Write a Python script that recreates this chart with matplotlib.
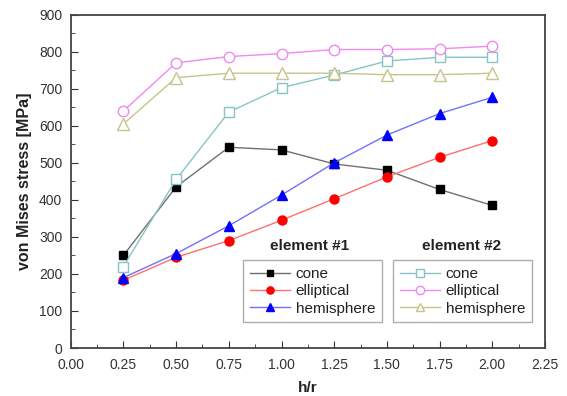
import numpy as np
import matplotlib.pyplot as plt

plt.rcParams['font.family'] = ['Liberation Sans', 'DejaVu Sans']

h_r = [0.25, 0.5, 0.75, 1.0, 1.25, 1.5, 1.75, 2.0]

# element #1
cone1 = [250, 435, 542, 535, 497, 480, 428, 385]
ellip1 = [183, 245, 290, 345, 403, 462, 515, 560]
hemi1 = [190, 255, 330, 413, 500, 575, 633, 677]

# element #2
cone2 = [220, 455, 637, 703, 737, 775, 785, 785]
ellip2 = [640, 770, 787, 795, 806, 806, 808, 815]
hemi2 = [605, 730, 742, 742, 742, 738, 738, 742]

fig = plt.figure(figsize=(5.67, 3.96), dpi=100)
ax = fig.add_axes([70.7/567, 1-348/396, (545-70.7)/567, (348-14.7)/396])

l1 = ax.plot(h_r, cone1, '-', color='#707070', lw=1, marker='s', ms=6,
             mfc='black', mec='black', label='cone')
l2 = ax.plot(h_r, ellip1, '-', color='#ff7070', lw=1, marker='o', ms=6.5,
             mfc='red', mec='red', label='elliptical')
l3 = ax.plot(h_r, hemi1, '-', color='#7070ff', lw=1, marker='^', ms=7.5,
             mfc='blue', mec='blue', label='hemisphere')

l4 = ax.plot(h_r, cone2, '-', color='#88c4c4', lw=1, marker='s', ms=6.5,
             mfc='white', mec='#88c4c4', label='cone')
l5 = ax.plot(h_r, ellip2, '-', color='#f088f0', lw=1, marker='o', ms=7.5,
             mfc='white', mec='#f088f0', label='elliptical')
l6 = ax.plot(h_r, hemi2, '-', color='#c4c48c', lw=1, marker='^', ms=8,
             mfc='white', mec='#c4c48c', label='hemisphere')

ax.set_xlim(0, 2.25)
ax.set_ylim(0, 900)
ax.set_xticks(np.arange(0, 2.26, 0.25))
ax.set_xticks(np.arange(0.125, 2.25, 0.25), minor=True)
ax.set_yticks(np.arange(0, 901, 100))
ax.set_yticks(np.arange(50, 900, 100), minor=True)
ax.tick_params(direction='in', which='both', top=False, right=False,
               labelsize=10, labelcolor='#333333', color='#333333')
ax.tick_params(which='major', length=5)
ax.tick_params(which='minor', length=3)
ax.tick_params(axis='x', which='major', pad=7)
ax.tick_params(axis='y', which='major', pad=6)
ax.xaxis.set_major_formatter(plt.FormatStrFormatter('%.2f'))
for s in ax.spines.values():
    s.set_linewidth(1.3)
    s.set_color('#444444')

ax.set_xlabel('h/r', fontsize=11, fontweight='bold', color='#222222', labelpad=7)
ax.set_ylabel('von Mises stress [MPa]', fontsize=11.5, fontweight='bold',
              color='#222222', labelpad=5)

kw = dict(loc='upper left', frameon=True, fancybox=False, fontsize=11,
          handlelength=2.6, handletextpad=0.4, borderpad=0.45,
          labelspacing=0.22, borderaxespad=0, markerscale=0.8,
          bbox_transform=fig.transFigure)
leg1 = ax.legend(handles=l1 + l2 + l3, bbox_to_anchor=(243/567, 1-260/396), **kw)
leg1.get_frame().set_edgecolor('#999999')
leg1.get_frame().set_linewidth(1)
ax.add_artist(leg1)
leg2 = ax.legend(handles=l4 + l5 + l6, bbox_to_anchor=(393/567, 1-260/396), **kw)
leg2.get_frame().set_edgecolor('#999999')
leg2.get_frame().set_linewidth(1)
for leg in (leg1, leg2):
    for t in leg.get_texts():
        t.set_color('#222222')

fig.text(310/567, 1-246/396, 'element #1', fontsize=11, fontweight='bold',
         color='#222222', ha='center', va='center')
fig.text(462/567, 1-246/396, 'element #2', fontsize=11, fontweight='bold',
         color='#222222', ha='center', va='center')

fig.savefig('out.png', dpi=100)
